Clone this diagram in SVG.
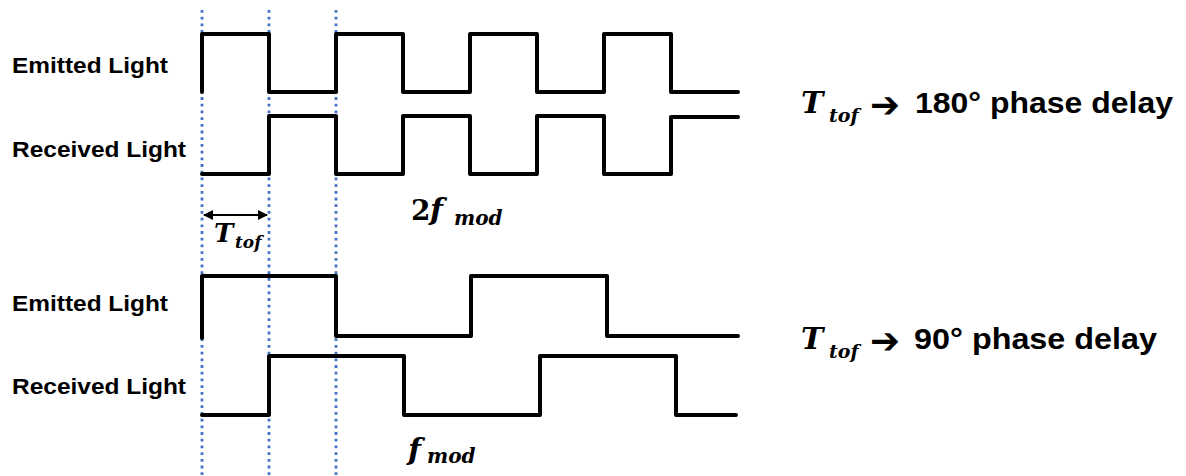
<svg xmlns="http://www.w3.org/2000/svg" width="1186" height="476" viewBox="0 0 1186 476">
<defs>
<style>
.wave{fill:none;stroke:#000;stroke-width:4;stroke-linecap:round;stroke-linejoin:round}
.guide{stroke:#4472C4;stroke-width:2.8;stroke-dasharray:2.8 3.9}
.lbl{font-family:"Liberation Sans",Arial,sans-serif;font-weight:bold;font-size:22px;fill:#000}
.big{font-family:"Liberation Sans",Arial,sans-serif;font-weight:bold;font-size:30px;fill:#000}
.math{font-family:"DejaVu Serif","Liberation Serif",serif;font-weight:bold;font-style:italic;fill:#000}
.num{font-family:"DejaVu Serif","Liberation Serif",serif;font-weight:bold;fill:#000}
.arr{font-family:"DejaVu Sans",sans-serif;font-weight:bold;font-size:36px;fill:#000}
</style>
<marker id="ah" viewBox="0 0 10 10" refX="9" refY="5" markerWidth="5" markerHeight="5" orient="auto-start-reverse" markerUnits="strokeWidth">
<path d="M0,0 L10,5 L0,10 z" fill="#000"/>
</marker>
</defs>
<rect width="1186" height="476" fill="#fff"/>
<g id="guides">
<line class="guide" x1="202" y1="10" x2="202" y2="476"/>
<line class="guide" x1="269" y1="10" x2="269" y2="476"/>
<line class="guide" x1="336" y1="10" x2="336" y2="476"/>
</g>
<g id="top-emitted">
<path class="wave" d="M202,92 V34 H269 V92 H336 V34 H403 V92 H470 V34 H537 V92 H604 V34 H671 V92 H738"/>
<text class="lbl" x="12" y="73" textLength="156" lengthAdjust="spacingAndGlyphs">Emitted Light</text>
</g>
<g id="top-received">
<path class="wave" d="M202,174 H269 V116 H336 V174 H403 V116 H470 V174 H537 V116 H604 V174 H671 V117 H738"/>
<text class="lbl" x="12" y="157" textLength="174" lengthAdjust="spacingAndGlyphs">Received Light</text>
</g>
<g id="bottom-emitted">
<path class="wave" d="M202,338 V276 H336 V336 H471 V276 H607 V336 H738"/>
<text class="lbl" x="12" y="311" textLength="156" lengthAdjust="spacingAndGlyphs">Emitted Light</text>
</g>
<g id="bottom-received">
<path class="wave" d="M202,415 H269 V356 H404 V415 H540 V356 H676 V415 H736"/>
<text class="lbl" x="12" y="394" textLength="174" lengthAdjust="spacingAndGlyphs">Received Light</text>
</g>
<g id="connectors">
<line x1="204" y1="215" x2="267" y2="215" stroke="#000" stroke-width="2" marker-start="url(#ah)" marker-end="url(#ah)"/>
</g>
<g id="ttof-label">
<text class="math" x="214" y="242" font-size="26">T</text>
<text class="math" x="235" y="248" font-size="17">tof</text>
</g>
<g id="freq-2f">
<text class="num" x="411" y="220" font-size="28">2</text>
<text class="math" x="430" y="220" font-size="30">f</text>
<text class="math" x="454" y="225" font-size="20">mod</text>
</g>
<g id="freq-f">
<text class="math" x="408" y="460" font-size="30">f</text>
<text class="math" x="427" y="463" font-size="20">mod</text>
</g>
<g id="phase-180">
<text class="math" x="801" y="113" font-size="30">T</text>
<text class="math" x="829" y="122" font-size="19">tof</text>
<text class="arr" x="870" y="117" textLength="30" lengthAdjust="spacingAndGlyphs">➔</text>
<text class="big" x="915" y="113" textLength="258" lengthAdjust="spacingAndGlyphs">180° phase delay</text>
</g>
<g id="phase-90">
<text class="math" x="801" y="349" font-size="30">T</text>
<text class="math" x="829" y="358" font-size="19">tof</text>
<text class="arr" x="870" y="353" textLength="30" lengthAdjust="spacingAndGlyphs">➔</text>
<text class="big" x="914" y="349" textLength="243" lengthAdjust="spacingAndGlyphs">90° phase delay</text>
</g>
</svg>
